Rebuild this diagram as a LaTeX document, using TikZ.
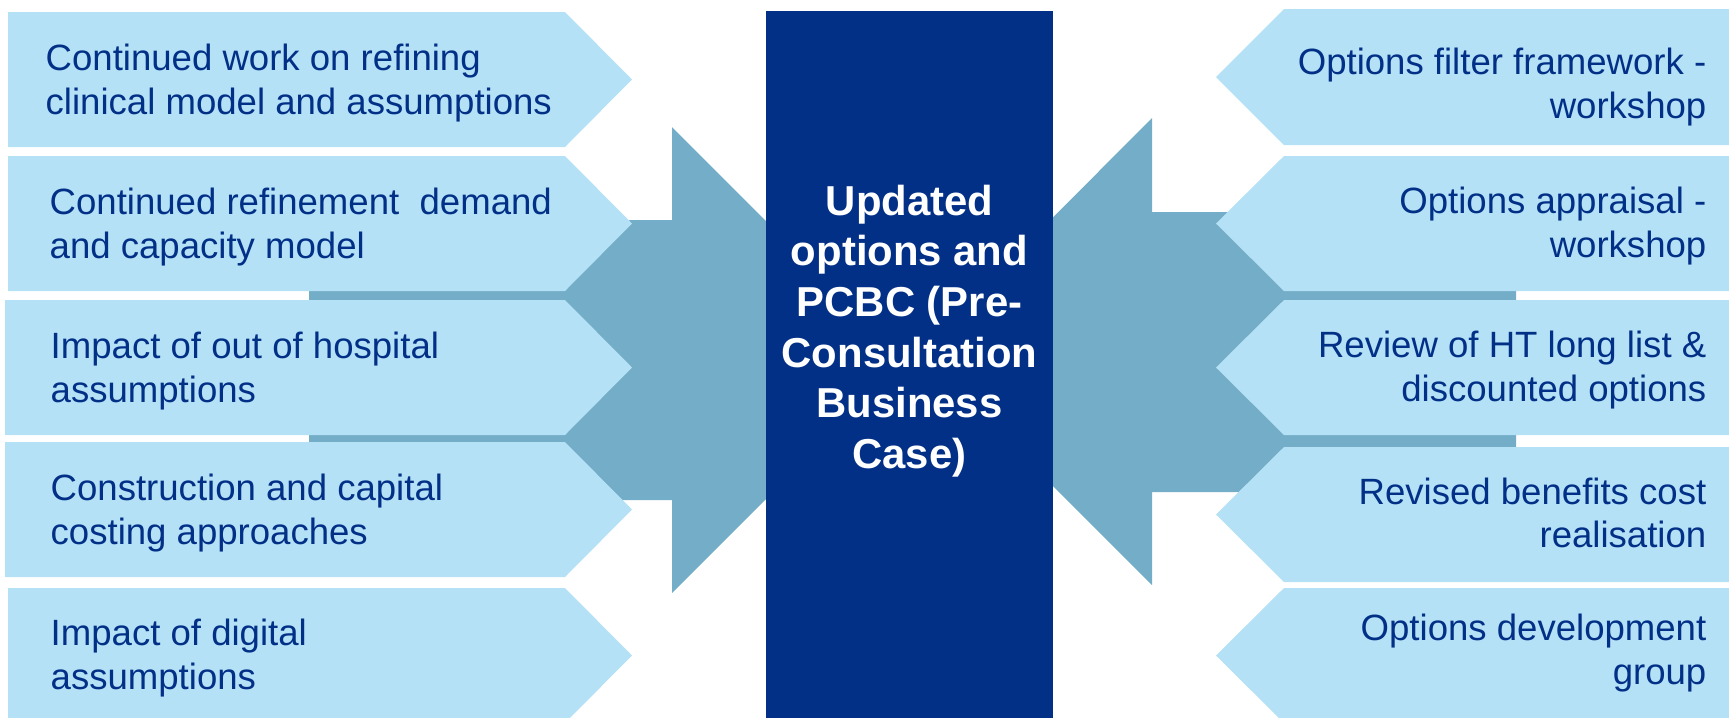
\documentclass[tikz,border=0pt]{standalone}
\usepackage{fontspec}
\setmainfont{Liberation Sans}
\definecolor{chevblue}{RGB}{180,225,246}
\definecolor{arrowblue}{RGB}{116,173,199}
\definecolor{navy}{RGB}{3,48,135}
\begin{document}
\begin{tikzpicture}[x=0.01cm, y=-0.01cm,
    chev/.style={fill=chevblue},
    bigarrow/.style={fill=arrowblue},
    lefttext/.style={anchor=west, align=left, inner sep=0pt, text=navy, font=\fontsize{10.4}{12.3}\selectfont},
    righttext/.style={anchor=east, align=right, inner sep=0pt, text=navy, font=\fontsize{10.4}{12.3}\selectfont},
    pcbcbox/.style={rectangle, fill=navy, inner sep=0pt, minimum width=2.87cm, minimum height=7.1cm},
    pcbctext/.style={align=center, inner sep=0pt, text=white, font=\fontsize{11.9}{14.4}\selectfont\bfseries}]

        \clip (0,0) rectangle (1729,717);

        % big arrows behind
        \fill[bigarrow] (309,220) -- (672,220) -- (672,127) -- (905,360) -- (672,593) -- (672,500) -- (309,500) -- cycle;
        \fill[bigarrow] (1516,212) -- (1152,212) -- (1152,118) -- (919,352) -- (1152,585) -- (1152,492) -- (1516,492) -- cycle;

        % centre box
        \node[pcbcbox] (pcbc) at (909.5,366) {};
        \node[pcbctext] (pcbctxt) at (909.5,331) {Updated\\options and\\PCBC (Pre-\\Consultation\\Business\\Case)};

        % left chevrons
        \fill[chev] (8,12) -- (565,12) -- (632,79.5) -- (565,147) -- (8,147) -- cycle;
        \fill[chev] (8,156) -- (565,156) -- (632,223.5) -- (565,291) -- (8,291) -- cycle;
        \fill[chev] (5,300) -- (565,300) -- (632,367.5) -- (565,435) -- (5,435) -- cycle;
        \fill[chev] (5,442) -- (565,442) -- (632,509.5) -- (565,577) -- (5,577) -- cycle;
        \fill[chev] (8,588) -- (565,588) -- (632,655.5) -- (565,723) -- (8,723) -- cycle;

        \node[lefttext] (l1) at (45,83) {Continued work on refining\\clinical model and assumptions};
        \node[lefttext] (l2) at (49,227) {Continued refinement\ \ demand\\and capacity model};
        \node[lefttext] (l3) at (50,371) {Impact of out of hospital\\assumptions};
        \node[lefttext] (l4) at (50,513) {Construction and capital\\costing approaches};
        \node[lefttext] (l5) at (50,658) {Impact of digital\\assumptions};

        % right chevrons
        \fill[chev] (1729,9) -- (1284,9) -- (1216,77) -- (1284,145) -- (1729,145) -- cycle;
        \fill[chev] (1729,156) -- (1284,156) -- (1216,223.5) -- (1284,291) -- (1729,291) -- cycle;
        \fill[chev] (1729,300) -- (1284,300) -- (1216,367.5) -- (1284,435) -- (1729,435) -- cycle;
        \fill[chev] (1729,447) -- (1284,447) -- (1216,514.5) -- (1284,582) -- (1729,582) -- cycle;
        \fill[chev] (1729,588) -- (1284,588) -- (1216,655.5) -- (1284,723) -- (1729,723) -- cycle;

        \node[righttext] (r1) at (1707,87) {Options filter framework -\\workshop};
        \node[righttext] (r2) at (1707,226) {Options appraisal -\\workshop};
        \node[righttext] (r3) at (1707,370) {Review of HT long list \&\\discounted options};
        \node[righttext] (r4) at (1707,513) {Revised benefits cost\\realisation};
        \node[righttext] (r5) at (1707,653) {Options development\\group};

    \end{tikzpicture}
\end{document}
